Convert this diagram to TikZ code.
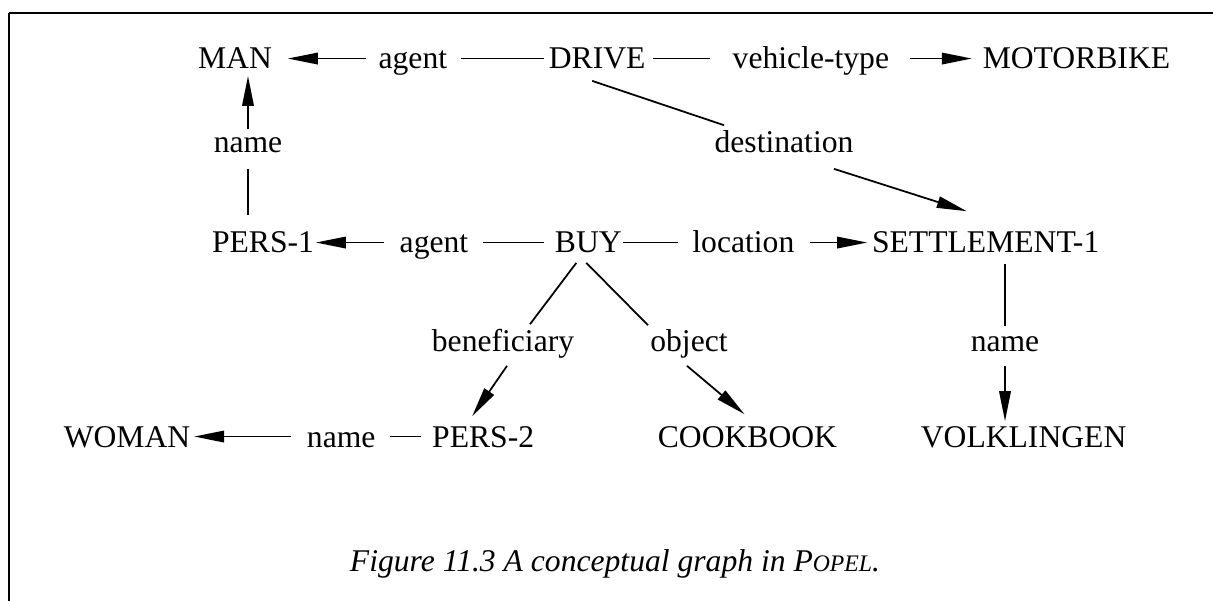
\documentclass[tikz,border=0pt]{standalone}
\usepackage{fontspec}
\setmainfont{Liberation Serif}
\usepackage{tikz}
\usetikzlibrary{positioning,arrows.meta}
\tikzset{cg node/.style={inner sep=0pt,text height=11.9pt,text depth=0pt},}

\begin{document}
\begin{tikzpicture}[x=0.02cm,y=-0.02cm,font=\fontsize{18}{22}\selectfont,
    line width=1pt,>={Triangle[length=0.6cm,width=0.23cm]}]
       \useasboundingbox (0,0) rectangle (1213,601);
       \draw[line width=1.6pt] (9,13) -- (1213,13);
       \draw[line width=0.6pt] (9,13) -- (9,601);

       % top row
       \node[cg node,anchor=base] (man) at (235,69) {MAN};
       \node[cg node] (agent1) [base right = 2.1cm of man] {agent};
       \node[cg node] (drive) [base right = 2cm of agent1] {DRIVE};
       \node[cg node] (vtype) [base right = 1.71cm of drive] {vehicle-type};
       \node[cg node] (motorbike) [base right = 1.84cm of vtype] {MOTORBIKE};

       \node[cg node,anchor=base] (name1) at (248,153) {name};
       \node[cg node,anchor=base] (destination) at (784,153) {destination};

       % middle row
       \node[cg node,anchor=base] (pers1) at (263,253) {PERS-1};
       \node[cg node] (agent2) [base right = 1.68cm of pers1] {agent};
       \node[cg node] (buy) [base right = 1.7cm of agent2] {BUY};
       \node[cg node] (location) [base right = 1.38cm of buy] {location};
       \node[cg node] (settlement) [base right = 1.52cm of location] {SETTLEMENT-1};

       \node[cg node,anchor=base] (beneficiary) at (503,351) {beneficiary};
       \node[cg node,anchor=base] (object) at (689,351) {object};
       \node[cg node,anchor=base] (name2) at (1005,351) {name};

       % bottom row
       \node[cg node,anchor=base] (woman) at (127,447) {WOMAN};
       \node[cg node] (name3) [base right = 2.3cm of woman] {name};
       \node[cg node] (pers2) [base right = 1.1cm of name3] {PERS-2};
       \node[cg node] (cookbook) [base right = 2.44cm of pers2] {COOKBOOK};
       \node[cg node] (volklingen) [base right = 1.64cm of cookbook] {VOLKLINGEN};

       \node[cg node,anchor=base] (caption) at (615,571)
            {\itshape Figure 11.3 A conceptual graph in P{\fontsize{13.5}{16}\selectfont OPEL}.};

       \draw [->,shorten <=0.24cm,shorten >=0.3cm] (agent1.west) -- (man.east);
       \draw [shorten <=0.26cm,shorten >=0.08cm] (agent1.east) -- (drive.west);
       \draw [shorten <=0.13cm,shorten >=0.44cm] (drive.east) -- (vtype.west);
       \draw [->,shorten <=0.4cm,shorten >=0.2cm] (vtype.east) -- (motorbike.west);

       \draw [->,shorten <=0.04cm,shorten >=0.12cm] (name1.north) -- (name1.north |- man.south);
       \draw [shorten <=0.3cm,shorten >=0.32cm] (name1.south) -- (name1.south |- pers1.north);

       \draw ([xshift=-0.1cm,yshift=-0.22cm]drive.south) -- ([xshift=-1.2cm,yshift=0.12cm]destination.north);
       \draw [->] ([xshift=1cm,yshift=-0.3cm]destination.south) -- ([xshift=-0.38cm,yshift=0.4cm]settlement.north);

       \draw [->,shorten <=0.3cm,shorten >=0.02cm] (agent2.west) -- (pers1.east);
       \draw [shorten <=0.28cm,shorten >=0.2cm] (agent2.east) -- (buy.west);
       \draw [shorten >=0.28cm] (buy.east) -- (location.west);
       \draw [->,shorten <=0.3cm,shorten >=0.08cm] (location.east) -- (settlement.west);

       \draw ([xshift=-0.24cm,yshift=-0.18cm]buy.south) -- ([xshift=0.54cm,yshift=0.1cm]beneficiary.north);
       \draw ([xshift=-0.04cm,yshift=-0.18cm]buy.south) -- ([xshift=-0.82cm,yshift=0.08cm]object.north);
       \draw [->] ([xshift=0.08cm,yshift=-0.28cm]beneficiary.south) -- ([xshift=-0.22cm,yshift=0.18cm]pers2.north);
       \draw [->] ([xshift=-0.04cm,yshift=-0.28cm]object.south) -- ([xshift=-0.06cm,yshift=0.22cm]cookbook.north);

       \draw [shorten <=0.2cm,shorten >=0.06cm] (name2.north |- settlement.south) -- (name2.north);
       \draw [->,shorten <=0.28cm,shorten >=0.08cm] (name2.south) -- (name2.south |- volklingen.north);

       \draw [->,shorten <=0.3cm,shorten >=0.06cm] (name3.west) -- (woman.east);
       \draw [shorten <=0.28cm,shorten >=0.2cm] (name3.east) -- (pers2.west);
    \end{tikzpicture}
\end{document}
